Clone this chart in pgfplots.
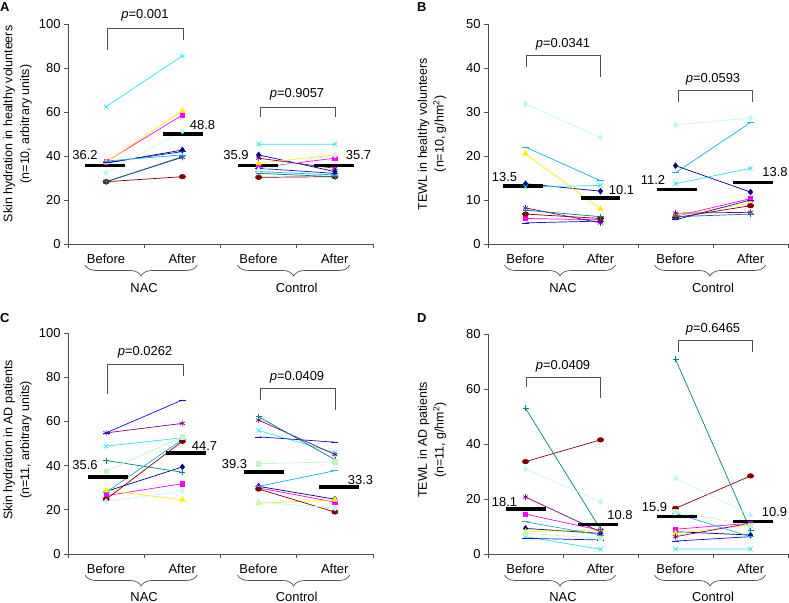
\documentclass[border=0pt]{standalone}
\usepackage{fontspec}
\setmainfont{Liberation Sans}
\usepackage{pgfplots}
\pgfplotsset{compat=1.18}
\usepackage{pgfplotstable}
\usetikzlibrary{decorations.pathreplacing}

\definecolor{cnavy}{HTML}{000080}
\definecolor{cmag}{HTML}{FF00FF}
\definecolor{cyel}{HTML}{FFF000}
\definecolor{ccyan}{HTML}{22E6F2}
\definecolor{cpur}{HTML}{800080}
\definecolor{cdred}{HTML}{800000}
\definecolor{cteal}{HTML}{008080}
\definecolor{cblue}{HTML}{1010E0}
\definecolor{csky}{HTML}{10B0E8}
\definecolor{clcyan}{HTML}{C4F4FA}
\definecolor{clgreen}{HTML}{C4F4C4}
\definecolor{cax}{HTML}{505050}

% Panel A: skin hydration, healthy volunteers
\pgfplotstableread{
x   navy mag  yel  cyan pur  dred teal blue sky  lcyan
0.5 36.7 37.4 37.2 62.4 28.3 28.3 28.3 37.0 37.7 32.4
1.5 42.7 58.6 60.5 85.5 39.4 30.6 39.7 42.0 40.5 51.4
2.0 nan  nan  nan  nan  nan  nan  nan  nan  nan  nan
2.5 40.5 34.7 36.7 45.3 39.0 30.3 32.1 34.4 32.9 33.6
3.5 32.9 39.0 40.5 45.3 34.4 30.6 30.6 32.1 31.4 40.5
}\tabA
% Panel B: TEWL, healthy volunteers
\pgfplotstableread{
x   navy mag  yel  cyan pur  dred teal blue sky  lcyan
0.5 13.7 5.8  20.5 13.0 8.2  6.8  7.7  4.8  22.0 31.8
1.5 12.0 5.5  8.0  13.3 4.8  5.8  6.2  5.2  14.4 24.2
2.0 nan  nan  nan  nan  nan  nan  nan  nan  nan  nan
2.5 17.8 6.3  6.5  13.7 7.0  6.0  6.2  5.5  16.2 27.1
3.5 11.8 10.3 9.3  17.2 7.2  8.7  6.8  10.0 27.6 28.6
}\tabB
% Panel C: skin hydration, AD patients
\pgfplotstableread{
x   navy mag  yel  cyan pur  dred teal blue sky  lcyan lgreen
0.5 28.3 26.4 28.8 48.8 54.8 24.8 42.3 54.8 27.9 23.8  37.4
1.5 39.4 31.8 24.5 52.6 59.1 51.0 37.0 69.7 51.8 28.3  53.0
2.0 nan  nan  nan  nan  nan  nan  nan  nan  nan  nan   nan
2.5 30.6 29.9 23.0 55.9 60.6 29.4 62.1 53.0 30.6 23.5  40.8
3.5 24.8 23.5 24.5 45.8 45.0 19.0 42.7 50.6 37.7 20.8  41.7
}\tabC
% Panel D: TEWL, AD patients
\pgfplotstableread{
x   navy mag  yel  cyan pur  dred teal blue sky  lcyan lgreen
0.5 9.3  14.5 8.1  6.3  20.7 33.6 53.0 5.7  11.7 30.9  7.5
1.5 7.5  8.6  8.7  1.7  8.0  41.5 9.0  5.1  6.9  19.0  5.7
2.0 nan  nan  nan  nan  nan  nan  nan  nan  nan  nan   nan
2.5 8.1  9.0  7.5  1.8  6.3  16.6 70.8 4.7  14.8 27.5  15.4
3.5 6.9  11.2 10.5 1.8  11.2 28.4 8.7  6.3  6.3  14.2  10.5
}\tabD

\pgfplotsset{
  panel/.style={
    scale only axis, anchor=south west,
    xmin=0, xmax=4, ymin=0, enlargelimits=false,
    axis lines=left, axis line style={-, draw=cax, line width=0.8bp},
    xtick={0,1,2,3,4}, xticklabels={},
    tick align=outside, major tick length=4bp,
    tick style={draw=cax, line width=0.8bp},
    ticklabel style={font=\fontsize{13}{15}\selectfont},
    /pgf/number format/assume math mode=true,
    unbounded coords=jump, clip=false,
    every axis plot/.append style={line width=0.7bp, mark options={solid}},
  },
  sNavy/.style={color=cnavy, mark=diamond*, mark size=2.8bp},
  sMag/.style={color=cmag, mark=square*, mark size=2.2bp},
  sYel/.style={color=cyel, mark=triangle*, mark size=3bp},
  sCyan/.style={color=ccyan, mark=x, mark size=3bp},
  sPur/.style={color=cpur, mark=asterisk, mark size=3bp},
  sDred/.style={color=cdred, mark=*, mark size=2.2bp, mark options={solid, xscale=1.4}},
  sTeal/.style={color=cteal, mark=+, mark size=3bp},
  sBlue/.style={color=cblue, mark=-, mark size=3.5bp},
  sSky/.style={color=csky, mark=-, mark size=3.5bp},
  sLcyan/.style={color=clcyan, mark=diamond*, mark size=2.8bp},
  sLgreen/.style={color=clgreen, mark=square*, mark size=2.2bp},
}

\newcommand{\plotten}[1]{%
  \addplot[sNavy] table[x=x,y=navy]{#1};
  \addplot[sMag] table[x=x,y=mag]{#1};
  \addplot[sYel] table[x=x,y=yel]{#1};
  \addplot[sCyan] table[x=x,y=cyan]{#1};
  \addplot[sPur] table[x=x,y=pur]{#1};
  \addplot[sDred] table[x=x,y=dred]{#1};
  \addplot[sTeal] table[x=x,y=teal]{#1};
  \addplot[sBlue] table[x=x,y=blue]{#1};
  \addplot[sSky] table[x=x,y=sky]{#1};
  \addplot[sLcyan] table[x=x,y=lcyan]{#1};
}
\newcommand{\mbar}[3]{\addplot[black, line width=3.5bp, no marks] coordinates {(#1,#3) (#2,#3)};}

\tikzset{
  lab/.style={font=\fontsize{13}{15}\selectfont, inner sep=0pt},
  ylab/.style={inner sep=0pt, rotate=90, align=center, font=\fontsize{12.5}{17}\selectfont},
  brk/.style={draw=cax, line width=0.8bp},
  br/.style={draw=cax, line width=0.7bp, decorate, decoration={brace, mirror, amplitude=11bp}},
  plet/.style={font=\bfseries\fontsize{13}{15}\selectfont, anchor=north west, inner sep=0pt},
}
\newcommand{\under}[5]{%
  \foreach \ii/\lbl in {0/Before,1/After,2/Before,3/After}
    \node[lab] at ({#1+\ii*#2},#3) {\lbl};
  \draw[br] ({#1-21},#4) -- ({#1+#2+15},#4);
  \draw[br] ({#1+2*#2-21},#4) -- ({#1+3*#2+15},#4);
  \node[lab] at ({#1+0.5*#2},#5) {NAC};
  \node[lab] at ({#1+2.5*#2},#5) {Control};
}

\begin{document}
\begin{tikzpicture}[x=1bp,y=1bp]
\useasboundingbox (0,0) rectangle (789,603);

% ---------------- A ----------------
\begin{axis}[panel, at={(68bp,359bp)}, width=305bp, height=220bp, ymax=100, ytick={0,20,...,100}]
  \plotten{\tabA}
  \mbar{0.22}{0.75}{35.6}
  \mbar{1.25}{1.77}{50.0}
  \mbar{2.23}{2.75}{35.6}
  \mbar{3.23}{3.75}{35.6}
\end{axis}
% ---------------- B ----------------
\begin{axis}[panel, at={(488bp,359bp)}, width=300bp, height=220bp, ymax=50, ytick={0,10,...,50}]
  \plotten{\tabB}
  \mbar{0.20}{0.73}{13.2}
  \mbar{1.24}{1.76}{10.4}
  \mbar{2.25}{2.79}{12.4}
  \mbar{3.27}{3.80}{14.0}
\end{axis}
% ---------------- C ----------------
\begin{axis}[panel, at={(68bp,49bp)}, width=305bp, height=221bp, ymax=100, ytick={0,20,...,100}]
  \plotten{\tabC}
  \addplot[sLgreen] table[x=x,y=lgreen]{\tabC};
  \mbar{0.26}{0.79}{34.9}
  \mbar{1.29}{1.81}{45.8}
  \mbar{2.31}{2.83}{37.0}
  \mbar{3.29}{3.82}{30.3}
\end{axis}
% ---------------- D ----------------
\begin{axis}[panel, at={(488bp,49bp)}, width=300bp, height=220bp, ymax=80, ytick={0,20,...,80}]
  \plotten{\tabD}
  \addplot[sLgreen] table[x=x,y=lgreen]{\tabD};
  \mbar{0.24}{0.77}{16.4}
  \mbar{1.20}{1.73}{10.8}
  \mbar{2.25}{2.79}{13.6}
  \mbar{3.27}{3.80}{11.8}
\end{axis}

% mean labels
\node[lab] at (85,448) {36.2};   \node[lab] at (202.5,478) {48.8};
\node[lab] at (236,448) {35.9};  \node[lab] at (358.5,448) {35.7};
\node[lab] at (504.5,426) {13.5}; \node[lab] at (621.5,413) {10.1};
\node[lab] at (653,423) {11.2};   \node[lab] at (775,431) {13.8};
\node[lab] at (85,138) {35.6};    \node[lab] at (204.5,157) {44.7};
\node[lab] at (234.5,139) {39.3}; \node[lab] at (360.5,123) {33.3};
\node[lab] at (504.5,101) {18.1}; \node[lab] at (620,88) {10.8};
\node[lab] at (654.5,96) {15.9};  \node[lab] at (774.5,91) {10.9};

% brackets and p values
\draw[brk] (107,553) -- (107,575) -- (183,575) -- (183,563);
\node[lab] at (145,588) {\textit{p}=0.001};
\draw[brk] (260,486) -- (260,496) -- (335,496) -- (335,486);
\node[lab] at (297,509) {\textit{p}=0.9057};
\draw[brk] (526,536) -- (526,548) -- (600,548) -- (600,526);
\node[lab] at (563,559) {\textit{p}=0.0341};
\draw[brk] (678,501) -- (678,513) -- (752,513) -- (752,501);
\node[lab] at (713,524) {\textit{p}=0.0593};
\draw[brk] (107,209) -- (107,239) -- (183,239) -- (183,227);
\node[lab] at (145,251) {\textit{p}=0.0262};
\draw[brk] (260,203) -- (260,215) -- (335,215) -- (335,193);
\node[lab] at (297,226) {\textit{p}=0.0409};
\draw[brk] (526,216) -- (526,226) -- (600,226) -- (600,205);
\node[lab] at (563,237) {\textit{p}=0.0409};
\draw[brk] (678,251) -- (678,263) -- (752,263) -- (752,251);
\node[lab] at (713,274) {\textit{p}=0.6465};

% category labels and braces
\under{106}{76.25}{344}{338}{315}
\under{525.5}{75}{344}{338}{315}
\under{106}{76.25}{34}{28}{6}
\under{525.5}{75}{34}{28}{6}

% axis titles
\node[ylab] at (17.5,479) {Skin hydration in healthy volunteers\\(n=10, arbitrary units)};
\node[ylab] at (432,469) {TEWL in healthy volunteers\\(n=10, g/hm\textsuperscript{2})};
\node[ylab] at (17.5,163) {Skin hydration in AD patients\\(n=11, arbitrary units)};
\node[ylab] at (432,163) {TEWL in AD patients\\(n=11, g/hm\textsuperscript{2})};

% panel letters
\node[plet] at (0,601) {A};
\node[plet] at (417,601) {B};
\node[plet] at (0,290) {C};
\node[plet] at (417,290) {D};
\end{tikzpicture}
\end{document}
